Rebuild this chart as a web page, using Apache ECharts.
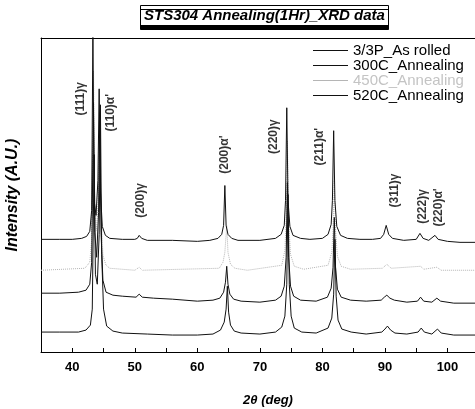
<!DOCTYPE html>
<html>
<head>
<meta charset="utf-8">
<script src="https://cdn.jsdelivr.net/npm/echarts@6/dist/echarts.min.js"></script>
<style>
  html, body { margin: 0; padding: 0; background: #fff; }
  #chart { width: 475px; height: 409px; }
</style>
</head>
<body>
<div id="chart"></div>
<script>
// 系列名称（图例顺序）
const seriesNames = ['3/3P_As rolled', '300C_Annealing', '450C_Annealing', '520C_Annealing']

// 各曲线纵向偏移（堆叠显示）
const offsets = {
  '3/3P_As rolled': 112,
  '450C_Annealing': 82,
  '300C_Annealing': 50,
  '520C_Annealing': 18
}

// [2θ, 相对强度]
const asRolled = [
  [35, 1], [38, 1], [40, 1], [41.5, 2], [42.3, 4], [42.8, 9], [43.1, 30], [43.3, 210], [43.5, 40],
  [43.8, 25], [44.1, 60], [44.3, 152], [44.5, 50], [44.8, 14], [45.3, 5], [46, 2], [48, 1], [50, 1],
  [50.4, 2], [50.7, 5], [51.1, 2], [52, 0], [56, 0], [60, -1], [62, 0], [63.3, 2], [63.9, 6],
  [64.2, 15], [64.4, 55], [64.6, 15], [64.9, 6], [65.5, 2], [66.5, 0], [70, 0], [72.5, 2], [73.4, 6],
  [73.9, 15], [74.1, 40], [74.3, 133], [74.5, 40], [74.8, 14], [75.3, 5], [76.5, 2], [78, 1], [80, 2],
  [80.9, 6], [81.4, 16], [81.6, 40], [81.8, 110], [82.0, 40], [82.3, 14], [82.9, 5], [84, 2], [86, 1],
  [88, 1], [89.3, 2], [89.8, 6], [90.2, 15], [90.6, 6], [91.2, 2], [93, 0], [95, 1], [95.6, 7],
  [96.1, 2], [97, 0], [98.0, 5], [98.5, 1], [100, -1], [102, -2], [105, -2]
]

const anneal300 = [
  [35, 9], [38, 9], [41, 10], [42.2, 12], [42.8, 18], [43.1, 40], [43.4, 200], [43.6, 70], [43.9, 45],
  [44.2, 90], [44.4, 190], [44.6, 70], [44.9, 22], [45.4, 10], [46.5, 7], [48, 6], [50.2, 5], [50.7, 8],
  [51.2, 5], [53, 4], [56, 3], [60, 1], [62.5, 2], [63.6, 4], [64.2, 10], [64.5, 20], [64.7, 36],
  [64.9, 18], [65.2, 8], [65.8, 3], [67, 1], [70, 0], [72.5, 2], [73.4, 6], [73.9, 16], [74.2, 45],
  [74.4, 120], [74.6, 45], [74.9, 16], [75.4, 6], [76.5, 2], [79, 1], [80.8, 5], [81.4, 14], [81.7, 35],
  [81.9, 85], [82.1, 35], [82.4, 13], [83, 5], [84.5, 2], [87, 1], [89.4, 2], [89.9, 5], [90.3, 7],
  [90.8, 4], [91.5, 2], [93.5, 0], [95.2, 1], [95.7, 5], [96.2, 1], [97.5, 0], [98.3, 4], [98.9, 1],
  [101, -1], [105, -1]
]

const anneal450 = [
  [35, 0], [42, 2], [42.8, 8], [43.1, 30], [43.4, 200], [43.6, 60], [43.9, 40], [44.2, 80], [44.4, 160],
  [44.6, 60], [44.9, 15], [45.4, 5], [46, 2], [50, 0], [50.7, 3], [51.2, 0], [63.5, 2], [64.1, 8],
  [64.4, 18], [64.7, 45], [64.9, 18], [65.3, 6], [66, 2], [68, 0], [73.5, 5], [74.0, 20], [74.2, 50],
  [74.4, 130], [74.6, 50], [74.9, 16], [75.5, 4], [77, 1], [80.9, 5], [81.5, 18], [81.7, 40], [81.9, 90],
  [82.1, 40], [82.4, 14], [83, 4], [84.5, 1], [89.6, 2], [90.3, 6], [91, 2], [95.7, 4], [96.2, 1],
  [98.3, 3], [99, 0], [105, 0]
]

const anneal520 = [
  [35, 2], [38, 2], [41, 2], [42.2, 4], [42.9, 9], [43.2, 25], [43.5, 180], [43.7, 60], [44.0, 50],
  [44.3, 100], [44.5, 230], [44.7, 80], [45.0, 25], [45.5, 8], [46.5, 3], [48, 1], [52, 0], [56, -1],
  [60, -1], [62.5, 0], [63.7, 4], [64.3, 12], [64.6, 25], [64.8, 48], [65.0, 22], [65.3, 9], [65.9, 3],
  [67, 1], [70, 0], [72.5, 2], [73.5, 7], [74.0, 18], [74.3, 50], [74.5, 140], [74.7, 50], [75.0, 18],
  [75.5, 6], [76.7, 2], [79, 1], [80.9, 6], [81.5, 16], [81.8, 40], [82.0, 95], [82.2, 38], [82.5, 14],
  [83.1, 5], [84.6, 2], [87, 0], [89.5, 2], [90.0, 5], [90.4, 8], [90.9, 4], [91.6, 1], [93.5, 0],
  [95.3, 2], [95.8, 6], [96.3, 2], [97.5, 0], [98.4, 5], [99.0, 1], [101, -1], [105, -1]
]

// 峰位标注 [2θ, 纵坐标, 文本]
const peakLabels = [
  [41.3, 254, '(111)γ'],
  [46.1, 240, "(110)α'"],
  [51.0, 152, '(200)γ'],
  [64.3, 198, "(200)α'"],
  [72.2, 216, '(220)γ'],
  [79.5, 206, "(211)α'"],
  [91.5, 162, '(311)γ'],
  [96.0, 146, '(222)γ'],
  [98.6, 145, "(220)α'"]
]

const FONT = 'Liberation Sans, Arial, sans-serif'

const shift = (arr, name) => arr.map(([x, y]) => [x, y + offsets[name]])

const lineSeries = (name, data, color, type = 'solid') => ({
  name,
  type: 'line',
  data: shift(data, name),
  symbol: 'none',
  smooth: false,
  lineStyle: { color, width: 1, type },
  itemStyle: { color },
  z: type === 'solid' ? 3 : 2
})

const chart = echarts.init(document.getElementById('chart'))

chart.setOption({
  animation: false,
  backgroundColor: '#fff',
  title: {
    text: 'STS304 Annealing(1Hr)_XRD data',
    left: 140,
    top: 5,
    padding: [3, 4, 3, 4],
    borderColor: '#000',
    borderWidth: 1,
    backgroundColor: '#fff',
    shadowColor: '#000',
    shadowBlur: 0,
    shadowOffsetY: 4,
    textStyle: { fontFamily: FONT, fontSize: 15, fontWeight: 'bold', fontStyle: 'italic', color: '#000' }
  },
  legend: {
    data: seriesNames.map((n) => n === '450C_Annealing'
      ? { name: n, textStyle: { color: '#c4c4c4' } }
      : { name: n }),
    orient: 'vertical',
    left: 313,
    top: 43,
    padding: 0,
    icon: 'rect',
    itemWidth: 35,
    itemHeight: 1,
    itemGap: 0,
    selectedMode: false,
    textStyle: { fontFamily: FONT, fontSize: 15, color: '#000', lineHeight: 13 }
  },
  grid: {
    left: 41,
    top: 38,
    right: 0,
    bottom: 57,
    show: false,
    outerBoundsMode: 'none'
  },
  xAxis: [
    {
      type: 'value',
      min: 35,
      max: 104.4,
      interval: 5,
      name: '2θ (deg)',
      nameLocation: 'middle',
      nameGap: 42,
      nameTextStyle: { fontFamily: FONT, fontSize: 13, fontWeight: 'bold', fontStyle: 'italic', color: '#000', padding: [0, 0, 0, 20] },
      axisLine: { lineStyle: { color: '#000', width: 1 } },
      axisTick: { inside: true, length: 4, lineStyle: { color: '#000' } },
      axisLabel: {
        margin: 9,
        fontFamily: FONT,
        fontSize: 13,
        fontWeight: 'bold',
        color: '#000',
        showMaxLabel: false,
        formatter: (v) => (v % 10 === 0 && v >= 40 && v <= 100 ? String(v) : '')
      },
      splitLine: { show: false }
    },
    {
      // 顶部边框
      type: 'value',
      position: 'top',
      min: 35,
      max: 104.4,
      axisLine: { show: true, onZero: false, lineStyle: { color: '#000', width: 1 } },
      axisTick: { show: false },
      axisLabel: { show: false },
      splitLine: { show: false }
    }
  ],
  yAxis: {
    type: 'value',
    min: 0,
    max: 315,
    name: 'Intensity (A.U.)',
    nameLocation: 'middle',
    nameGap: 20,
    nameTextStyle: { fontFamily: FONT, fontSize: 16, fontWeight: 'bold', fontStyle: 'italic', color: '#000' },
    axisLine: { show: true, lineStyle: { color: '#000', width: 1 } },
    axisTick: { show: false },
    axisLabel: { show: false },
    splitLine: { show: false }
  },
  series: [
    lineSeries('3/3P_As rolled', asRolled, '#111'),
    lineSeries('300C_Annealing', anneal300, '#111'),
    lineSeries('450C_Annealing', anneal450, '#b5b5b5', 'dotted'),
    lineSeries('520C_Annealing', anneal520, '#111'),
    {
      name: 'peaks',
      type: 'scatter',
      symbolSize: 0,
      silent: true,
      z: 5,
      data: peakLabels.map(([x, y, t]) => ({ value: [x, y], name: t })),
      label: {
        show: true,
        position: 'inside',
        rotate: 90,
        align: 'center',
        verticalAlign: 'middle',
        formatter: (p) => p.name,
        fontFamily: FONT,
        fontSize: 12,
        fontWeight: 'bold',
        color: '#000'
      }
    }
  ]
})
</script>
</body>
</html>
